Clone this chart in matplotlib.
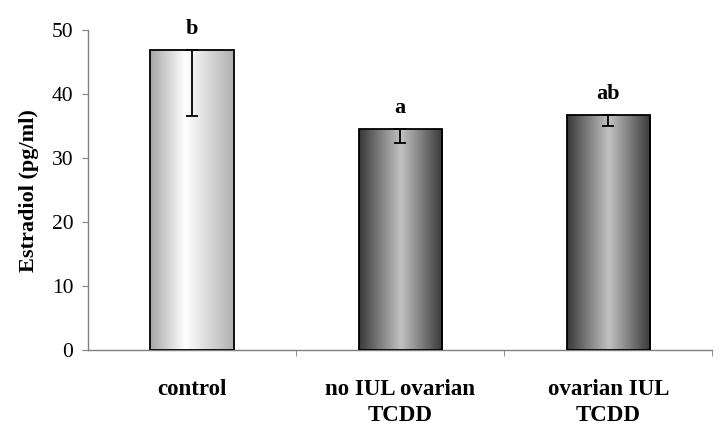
import numpy as np
import matplotlib.pyplot as plt
from matplotlib.colors import LinearSegmentedColormap

# datos
grupos = ['control', 'no IUL ovarian\nTCDD', 'ovarian IUL\nTCDD']
estradiol = [46.9, 34.6, 36.8]
error = [10.3, 2.3, 1.75]
letras = ['b', 'a', 'ab']

plt.rcParams['font.family'] = ['Liberation Serif', 'DejaVu Serif']

fig = plt.figure(figsize=(7.25, 4.37), dpi=100)
ax = fig.add_axes([0.1214, 0.199, 0.861, 0.732])

x = np.arange(len(grupos))
barras = ax.bar(x, estradiol, width=0.4, color='none', edgecolor='black',
                linewidth=1.3, zorder=3)

# degradados tipo cilindro (Excel)
claro = LinearSegmentedColormap.from_list('claro', [(0, '#a6a6a6'), (0.42, '#ffffff'), (1, '#b0b0b0')])
oscuro = LinearSegmentedColormap.from_list('oscuro', [(0, '#383838'), (0.5, '#c2c2c2'), (1, '#383838')])
grad = np.linspace(0, 1, 256).reshape(1, -1)
for i, b in enumerate(barras):
    cmap = claro if i == 0 else oscuro
    im = ax.imshow(grad, cmap=cmap, aspect='auto', zorder=2,
                   extent=[b.get_x(), b.get_x() + b.get_width(), 0, b.get_height()])
    im.set_clip_path(b)

# solo la barra de error inferior
ax.errorbar(x, estradiol, yerr=[error, [0] * len(error)], fmt='none',
            ecolor='black', elinewidth=1.3, capsize=4.5, capthick=1.3, zorder=4)

for i in range(len(grupos)):
    ax.text(x[i], estradiol[i] + 1.7, letras[i], ha='center', va='bottom',
            fontsize=16, fontweight='bold')

ax.set_xlim(-0.5, 2.5)
ax.set_ylim(0, 50)
ax.set_yticks(range(0, 51, 10))
ax.set_xticks(x)
ax.set_xticklabels(grupos, fontsize=16.5, fontweight='bold', linespacing=1.3)
ax.set_xticks([0.5, 1.5, 2.5], minor=True)
ax.tick_params(axis='x', which='major', length=0, pad=21)
ax.tick_params(axis='x', which='minor', length=4.5, color='#808080')
ax.tick_params(axis='y', length=4.5, color='#808080', labelsize=15.5, pad=6)
ax.set_ylabel('Estradiol (pg/ml)', fontsize=16, fontweight='bold', labelpad=9)

for s in ['top', 'right']:
    ax.spines[s].set_visible(False)
for s in ['left', 'bottom']:
    ax.spines[s].set_color('#808080')
    ax.spines[s].set_linewidth(1)

fig.savefig('out.png', dpi=100)
